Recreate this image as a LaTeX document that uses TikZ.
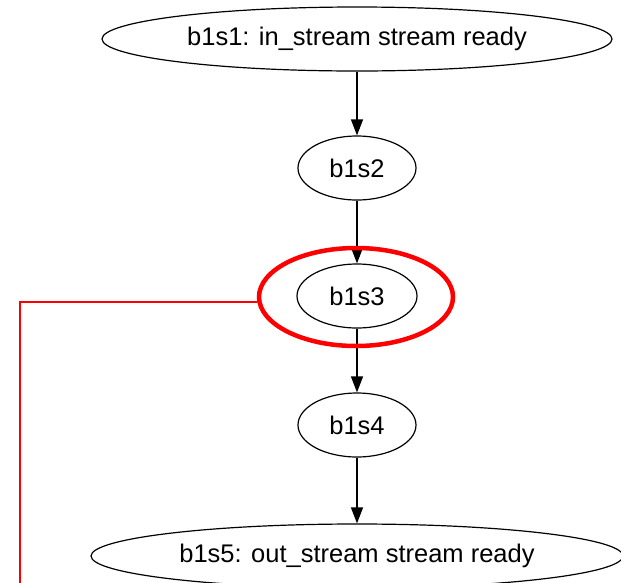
\documentclass[tikz,border=0pt]{standalone}
\usepackage{fontspec}
\setmainfont{Liberation Sans}
\usetikzlibrary{shapes.geometric,arrows.meta}
\tikzset{
  state/.style={ellipse, draw=black, line width=1.2pt, inner sep=0pt,
    font=\fontsize{25.5}{30}\selectfont},
  flow/.style={draw=black, line width=1.2pt,
    -{Triangle[length=16pt,width=12pt]}},
  mark ring/.style={ellipse, draw=red, line width=4.5pt, inner sep=0pt},
  mark line/.style={draw=red, line width=2pt}
}
\begin{document}
\begin{tikzpicture}[x=1pt,y=-1pt]
  \useasboundingbox (0,0) rectangle (621,582);
  \clip (0,0) rectangle (621,582);
  \fill[white] (0,0) rectangle (621,582);

  % state chain
  \node[state, minimum width=510pt, minimum height=64pt] (s1) at (357,39) {b1s1: in\_stream stream ready};
  \node[state, minimum width=118pt, minimum height=64pt] (s2) at (357,168) {b1s2};
  \node[state, minimum width=120pt, minimum height=64pt] (s3) at (357,296) {b1s3};
  \node[state, minimum width=118pt, minimum height=64pt] (s4) at (357,425) {b1s4};
  \node[state, minimum width=532pt, minimum height=64pt] (s5) at (357,556) {b1s5: out\_stream stream ready};

  \draw[flow] (s1) -- (s2);
  \draw[flow] (s2) -- (s3);
  \draw[flow] (s3) -- (s4);
  \draw[flow] (s4) -- (s5);

  % highlight around b1s3 with its leader line
  \node[mark ring, minimum width=194pt, minimum height=98pt] (ring) at (356,297) {};
  \coordinate (lineend) at (20,590);
  \draw[mark line] ([yshift=-5pt]ring.west) -| (lineend);
\end{tikzpicture}
\end{document}
